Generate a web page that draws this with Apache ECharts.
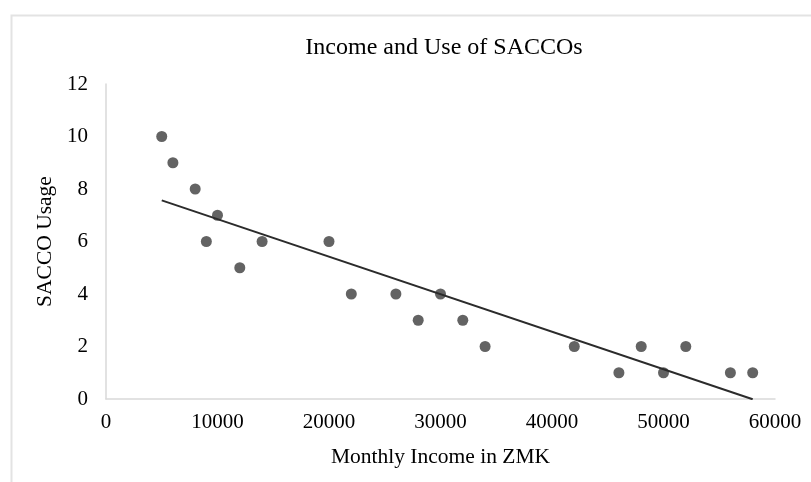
<!DOCTYPE html>
<html>
<head>
<meta charset="utf-8">
<script src="https://cdn.jsdelivr.net/npm/echarts@6/dist/echarts.min.js"></script>
<style>html,body{margin:0;padding:0;background:#fff;}#c{width:811px;height:482px;}</style>
</head>
<body>
<div id="c"></div>
<script>
const incomeZMK = [5000, 6000, 8000, 9000, 10000, 12000, 14000, 20000, 22000, 26000, 28000, 30000, 32000, 34000, 42000, 46000, 48000, 50000, 52000, 56000, 58000];
const saccoUsage = [10, 9, 8, 6, 7, 5, 6, 6, 4, 4, 3, 4, 3, 2, 2, 1, 2, 1, 2, 1, 1];
const titleText = 'Income and Use of SACCOs';
const xName = 'Monthly Income in ZMK';
const yName = 'SACCO Usage';

// least-squares linear trendline from the data
const n = incomeZMK.length;
const mx = incomeZMK.reduce((a, b) => a + b, 0) / n;
const my = saccoUsage.reduce((a, b) => a + b, 0) / n;
let sxy = 0, sxx = 0;
for (let i = 0; i < n; i++) { sxy += (incomeZMK[i] - mx) * (saccoUsage[i] - my); sxx += (incomeZMK[i] - mx) ** 2; }
const slope = sxy / sxx, icpt = my - slope * mx;
const x0 = Math.min(...incomeZMK), x1 = Math.max(...incomeZMK);
const trend = [[x0, icpt + slope * x0], [x1, icpt + slope * x1]];

const font = '"Liberation Serif", "DejaVu Serif", serif';
const chart = echarts.init(document.getElementById('c'));
chart.setOption({
  animation: false,
  backgroundColor: '#fff',
  graphic: [{
    type: 'rect', left: 9, top: 13, silent: true,
    shape: { width: 900, height: 600 },
    style: { fill: 'none', stroke: '#e3e3e3', lineWidth: 2 }
  }],
  title: {
    text: titleText, left: 439, top: 31, textAlign: 'center',
    textStyle: { fontFamily: font, fontSize: 24, fontWeight: 'normal', color: '#000' }
  },
  grid: { left: 106, right: 36, top: 84, bottom: 83 },
  xAxis: {
    type: 'value', min: 0, max: 60000, interval: 10000,
    name: xName, nameLocation: 'middle', nameGap: 47,
    nameTextStyle: { fontFamily: font, fontSize: 21.5, color: '#000' },
    axisLine: { show: true, lineStyle: { color: '#d9d9d9', width: 1.5 } },
    axisTick: { show: false },
    splitLine: { show: false },
    axisLabel: { fontFamily: font, fontSize: 21, color: '#000', margin: 13, formatter: v => String(v) }
  },
  yAxis: {
    type: 'value', min: 0, max: 12, interval: 2,
    name: yName, nameLocation: 'middle', nameGap: 48, nameRotate: 90,
    nameTextStyle: { fontFamily: font, fontSize: 21.5, color: '#000' },
    axisLine: { show: true, lineStyle: { color: '#d9d9d9', width: 1.5 } },
    axisTick: { show: false },
    splitLine: { show: false },
    axisLabel: { fontFamily: font, fontSize: 21, color: '#000', margin: 18 }
  },
  series: [
    {
      type: 'scatter', symbol: 'circle', symbolSize: 11,
      data: incomeZMK.map((x, i) => [x, saccoUsage[i]]),
      itemStyle: { color: '#3c3c3c' }, z: 3
    },
    {
      type: 'line', data: trend, symbol: 'none',
      lineStyle: { color: '#2b2b2b', width: 2 }, z: 4
    }
  ]
});
</script>
</body>
</html>
